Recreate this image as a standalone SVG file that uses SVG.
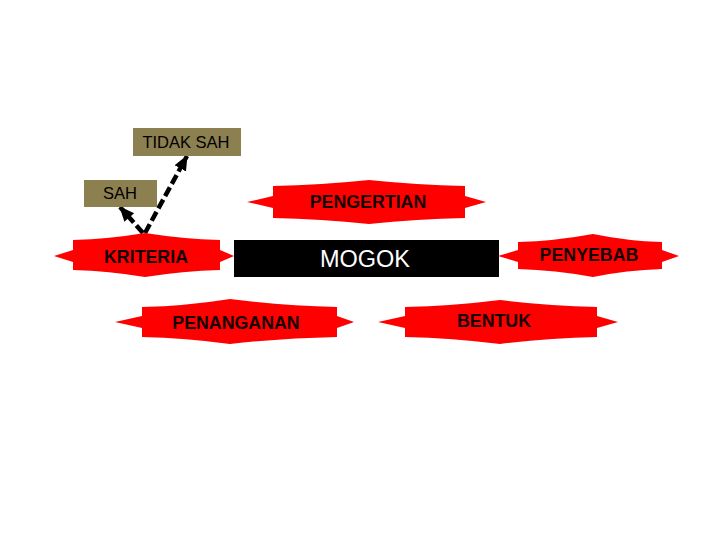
<svg xmlns="http://www.w3.org/2000/svg" width="720" height="540" viewBox="0 0 720 540">
<style>
.star{fill:#FF0000;stroke:none}
.lbl{font-family:"Liberation Sans",Arial,sans-serif;font-weight:bold;font-size:17.8px;fill:#140000;text-anchor:middle}
.box{fill:#8C7F50}
.blbl{font-family:"Liberation Sans",Arial,sans-serif;font-size:16.5px;fill:#000;text-anchor:middle}
.conn{stroke:#000;stroke-width:4.5;stroke-dasharray:10 4;fill:none}
</style>
<defs>
<marker id="ah" markerUnits="userSpaceOnUse" markerWidth="16" markerHeight="16" viewBox="0 0 16 16" refX="14" refY="8" orient="auto">
<path d="M0,1.5 L15,8 L0,14.5 Z" fill="#000"/>
</marker>
</defs>
<rect width="720" height="540" fill="#fff"/>
<g id="connectors">
<line class="conn" x1="143" y1="233" x2="120" y2="207" marker-end="url(#ah)"/>
<line class="conn" x1="145" y1="233" x2="187" y2="156" marker-end="url(#ah)"/>
</g>
<g id="tidak-sah">
<rect class="box" x="133" y="128" width="108" height="28"/>
<text class="blbl" x="186" y="148">TIDAK SAH</text>
</g>
<g id="sah">
<rect class="box" x="84" y="180" width="73" height="27"/>
<text class="blbl" x="120" y="199">SAH</text>
</g>
<g id="pengertian">
<path class="star" d="M247,202 L273,196 L273,186 Q321,185 369,180 Q417,185 465,186 L465,196 L486,202 L465,208 L465,218 Q417,219 369,224 Q321,219 273,218 L273,208 Z"/>
<text class="lbl" x="368" y="208">PENGERTIAN</text>
</g>
<g id="kriteria">
<path class="star" d="M54,256 L73,250 L73,240 Q109,239 145,233 Q183,239 220,240 L220,250 L234,256 L220,262 L220,270 Q183,271 145,277 Q109,271 73,270 L73,262 Z"/>
<text class="lbl" x="146" y="263">KRITERIA</text>
</g>
<g id="mogok">
<rect x="234" y="240" width="265" height="37" fill="#000"/>
<text x="365" y="267" font-family="Liberation Sans,Arial,sans-serif" font-size="23.5" fill="#fff" text-anchor="middle">MOGOK</text>
</g>
<g id="penyebab">
<path class="star" d="M498,256 L518,250 L518,242 Q555,241 593,234 Q627,241 662,242 L662,250 L679,256 L662,262 L662,269 Q627,270 593,277 Q555,270 518,269 L518,262 Z"/>
<text class="lbl" x="589" y="261">PENYEBAB</text>
</g>
<g id="penanganan">
<path class="star" d="M115,322 L142,316 L142,307 Q186,306 230,299 Q283,306 337,307 L337,316 L354,322 L337,328 L337,337 Q283,338 230,344 Q186,338 142,337 L142,328 Z"/>
<text class="lbl" x="236" y="329">PENANGANAN</text>
</g>
<g id="bentuk">
<path class="star" d="M378,322 L405,316 L405,307 Q452,306 500,300 Q548,306 597,307 L597,316 L618,322 L597,328 L597,337 Q548,338 500,344 Q452,338 405,337 L405,328 Z"/>
<text class="lbl" x="494" y="327">BENTUK</text>
</g>
</svg>
